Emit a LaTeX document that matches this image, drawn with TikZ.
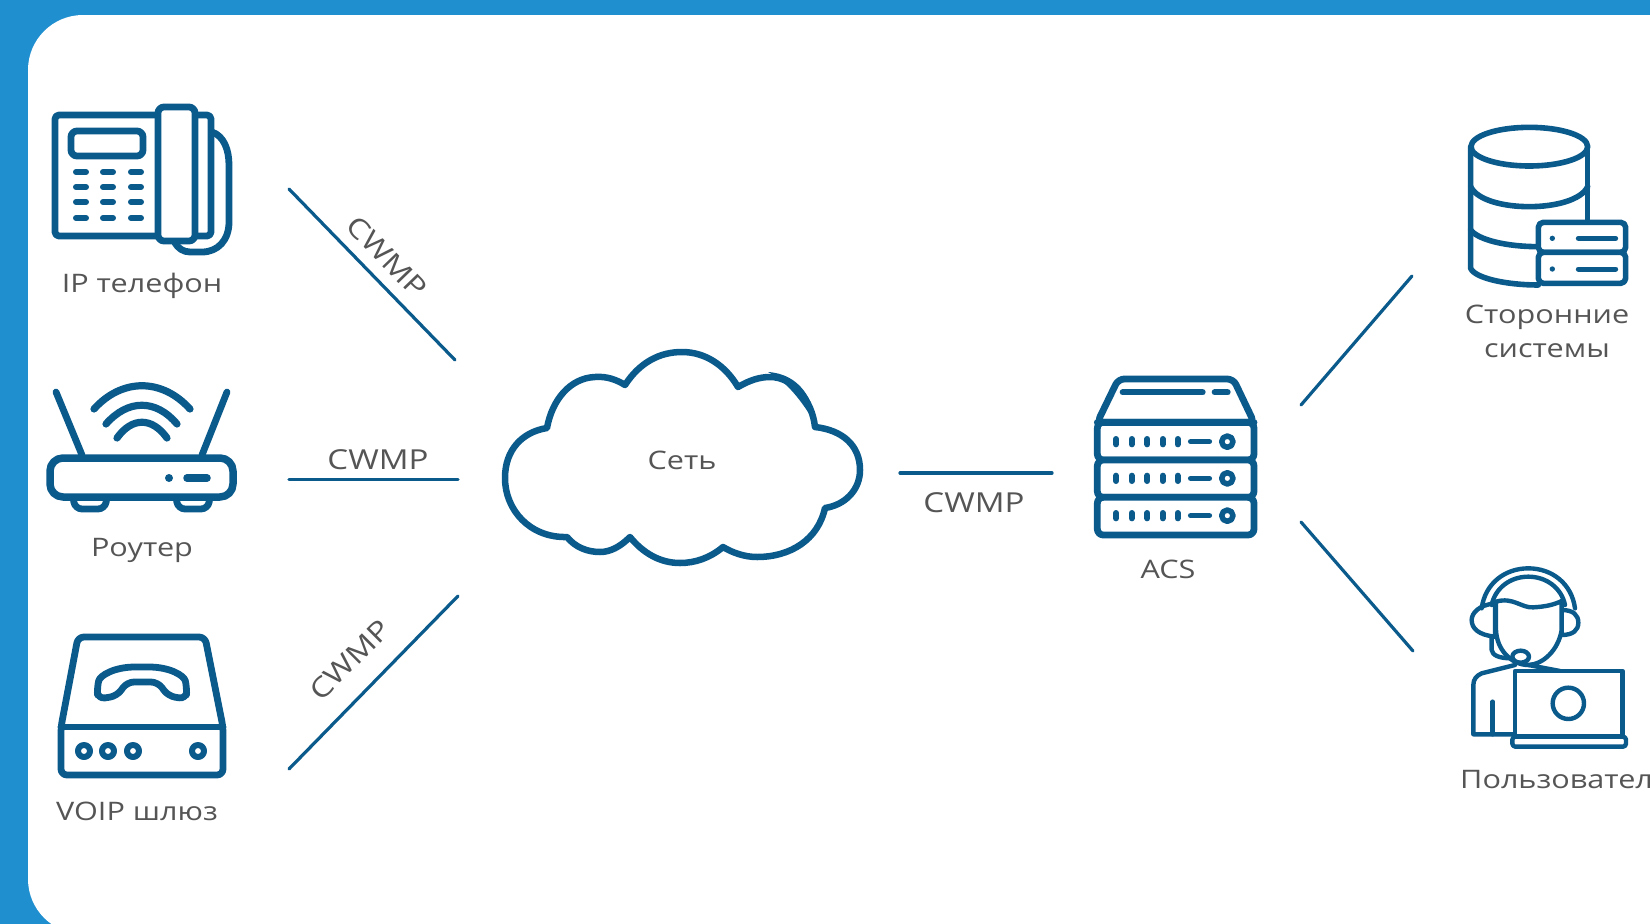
\documentclass[tikz,border=0pt]{standalone}
\usepackage{fontspec}
\setmainfont[FakeStretch=1.2]{Open Sans}
\definecolor{bgblue}{HTML}{208FD0}
\definecolor{ink}{HTML}{0B5A8C}
\definecolor{txt}{HTML}{555555}
\tikzset{
  icon/.style={draw=ink,line width=6.8pt,line join=round,line cap=round},
  thin icon/.style={draw=ink,line width=4.4pt,line join=round,line cap=round},
  wire/.style={draw=ink,line width=3.2pt,line cap=round},
  lbl/.style={text=txt,font=\fontsize{25.5}{34}\selectfont,inner sep=0pt,align=center},
  proto/.style={lbl,font=\fontsize{27.5}{34}\selectfont},
}
\begin{document}
\begin{tikzpicture}[x=1pt,y=-1pt]
\useasboundingbox (0,0) rectangle (1650,924);
\clip (0,0) rectangle (1650,924);
\fill[bgblue] (0,0) rectangle (1650,924);
\fill[white,rounded corners=55pt] (28,15) rectangle (1800,934);

% connectors
\coordinate (a1) at (289,189); \coordinate (a2) at (455,360);
\coordinate (b1) at (289,479.5); \coordinate (b2) at (458,479.5);
\coordinate (c1) at (289,769); \coordinate (c2) at (458,596);
\coordinate (d1) at (900,473); \coordinate (d2) at (1052,473);
\coordinate (e1) at (1301,405); \coordinate (e2) at (1412,276);
\coordinate (f1) at (1301,522); \coordinate (f2) at (1413,651);
\draw[wire] (a1) -- (a2);
\draw[wire] (b1) -- (b2);
\draw[wire] (c1) -- (c2);
\draw[wire] (d1) -- (d2);
\draw[wire] (e1) -- (e2);
\draw[wire] (f1) -- (f2);

% IP phone
\draw[icon,rounded corners=4pt] (55,115) rectangle (211,236);
\draw[icon,rounded corners=6pt] (71,131) rectangle (143,156);
\foreach \yy in {172,187,202,218}{\foreach \xx in {81,108,136}{
  \draw[icon,line width=6pt] (\xx-5,\yy) -- (\xx+5,\yy);}}
\draw[icon] (212,132) .. controls (224,136) and (229,150) .. (229,165) -- (229,222) .. controls (229,240) and (218,252) .. (202,252) -- (190,252) .. controls (183,252) and (178,248) .. (175,243);
\draw[icon,fill=white,rounded corners=6pt] (158,107) rectangle (195,241);

% Router
\draw[icon] (56,392) -- (82,455);
\draw[icon] (227,392) -- (202,455);
\draw[icon,line width=7.2pt] (94,409) .. controls (122,378) and (162,378) .. (190,409);
\draw[icon,line width=7.2pt] (106,424) .. controls (128,399) and (156,399) .. (177,424);
\draw[icon,line width=7.2pt] (117,438) .. controls (132,417) and (152,417) .. (167,438);
\draw[icon,rounded corners=7pt] (73,497) -- (75,509) -- (105,509) -- (107,497);
\draw[icon,rounded corners=7pt] (176,497) -- (178,509) -- (208,509) -- (210,497);
\draw[icon,fill=white,line width=7.5pt,rounded corners=13pt] (50,458) rectangle (233,497);
\fill[ink] (169,478) circle[radius=4];
\draw[icon,line width=7.5pt] (187,478) -- (207,478);

% VOIP gateway
\draw[icon,rounded corners=6pt] (61,727) -- (78,637) -- (205,637) -- (223,727) -- (223,775) -- (61,775) -- cycle;
\draw[icon] (61,727) -- (223,727);
\draw[icon,rounded corners=7pt] (97,688) .. controls (100,675) and (115,667) .. (142,667) .. controls (169,667) and (184,675) .. (187,688) -- (186,699) -- (168,696) -- (158,682) -- (127,682) -- (117,696) -- (98,699) -- cycle;
\foreach \xx in {84,108,133,198}{\draw[icon,line width=6pt] (\xx,751) circle[radius=6];}

% Cloud
\filldraw[draw=ink,fill=white,line width=6.5pt,line join=round] (625,385)
  .. controls (640,362) and (660,352) .. (682,352)
  .. controls (705,352) and (725,365) .. (738,387)
  .. controls (750,380) and (760,377) .. (770,377)
  .. controls (793,377) and (812,400) .. (815,427)
  .. controls (842,430) and (860,445) .. (860,470)
  .. controls (860,490) and (845,505) .. (825,508)
  .. controls (818,540) and (790,557) .. (757,557)
  .. controls (745,557) and (733,553) .. (723,547)
  .. controls (710,558) and (695,563) .. (680,563)
  .. controls (660,563) and (643,553) .. (630,537)
  .. controls (620,547) and (610,552) .. (600,552)
  .. controls (587,552) and (575,547) .. (567,537)
  .. controls (530,538) and (505,510) .. (505,478)
  .. controls (505,450) and (522,432) .. (547,428)
  .. controls (552,400) and (570,378) .. (595,377)
  .. controls (607,376) and (617,380) .. (625,385) -- cycle;
\fill[ink] (768,372) .. controls (800,374) and (814,400) .. (816,425) .. controls (806,408) and (790,383) .. (768,372) -- cycle;

% ACS server
\begin{scope}[shift={(1080,365)},scale=1/3]
\draw[icon,fill=white,rounded corners=6pt] (52,172) -- (115,42) -- (460,42) -- (522,172) -- cycle;
\draw[icon,fill=white,rounded corners=6pt] (52,172) rectangle (522,285);
\draw[icon,fill=white,rounded corners=6pt] (52,285) rectangle (522,397);
\draw[icon,fill=white,rounded corners=6pt] (52,397) rectangle (522,510);
\draw[icon] (52,172) -- (522,172);
\draw[icon,line width=6pt] (128,82) -- (368,82);
\draw[icon,line width=6pt] (404,82) -- (443,82);
\foreach \yy in {230,340,452}{
  \foreach \xx in {108,155,202,248,293}{\draw[icon,line width=6pt] (\xx,\yy-8) -- (\xx,\yy+8);}
  \draw[icon,line width=5.5pt] (332,\yy) -- (388,\yy);
  \draw[icon,line width=5.5pt] (442,\yy) circle[radius=17];
}
\end{scope}

% Database
\begin{scope}[shift={(1450,115)},scale=1/3]
\draw[icon,line width=5.6pt] (238,95) ellipse[x radius=175,y radius=58];
\draw[icon,line width=5.6pt] (62,95) -- (62,460) .. controls (75,490) and (170,510) .. (265,510);
\draw[icon,line width=5.6pt] (413,95) -- (413,320);
\draw[icon,line width=5.6pt] (62,215) .. controls (100,295) and (375,295) .. (413,215);
\draw[icon,line width=5.6pt] (62,345) .. controls (85,375) and (170,395) .. (265,395);
\draw[icon,fill=white,line width=5.6pt,rounded corners=5pt] (265,322) rectangle (527,412);
\draw[icon,fill=white,line width=5.6pt,rounded corners=5pt] (265,412) rectangle (527,505);
\fill[ink] (307,370) circle[radius=8];
\fill[ink] (307,462) circle[radius=8];
\draw[icon,line width=5pt] (385,370) -- (497,370);
\draw[icon,line width=5pt] (385,462) -- (497,462);
\end{scope}

% User
\begin{scope}[shift={(1450,555)},scale=1/3]
\draw[thin icon] (95,160) .. controls (105,85) and (165,40) .. (235,40) .. controls (305,40) and (365,85) .. (375,160);
\draw[thin icon] (125,150) .. controls (135,100) and (180,65) .. (235,65) .. controls (290,65) and (335,100) .. (345,150);
\draw[thin icon] (135,145) .. controls (85,150) and (65,175) .. (65,195) .. controls (65,220) and (85,240) .. (135,245) -- cycle;
\draw[thin icon] (335,165) .. controls (370,165) and (385,180) .. (385,203) .. controls (385,225) and (370,240) .. (335,240) -- cycle;
\draw[thin icon,fill=white] (138,140) .. controls (190,125) and (215,160) .. (250,157) .. controls (285,155) and (310,150) .. (335,138) -- (335,225) .. controls (325,285) and (280,328) .. (235,330) .. controls (185,330) and (140,285) .. (138,225) -- cycle;
\draw[thin icon] (125,245) -- (125,285) .. controls (127,300) and (145,310) .. (185,310);
\draw[thin icon,fill=white] (212,305) ellipse[x radius=25,y radius=18];
\draw[thin icon] (195,330) -- (95,355) .. controls (80,362) and (70,372) .. (70,390) -- (70,538) -- (195,538);
\draw[thin icon] (128,440) -- (128,538);
\draw[thin icon] (235,330) -- (330,348);
\draw[thin icon,fill=white] (195,348) rectangle (518,545);
\draw[thin icon,fill=white,rounded corners=3pt] (187,545) rectangle (528,575);
\draw[thin icon] (355,445) circle[radius=47];
\end{scope}

% labels
\node[lbl] (lphone) at (142,286) {IP телефон};
\node[lbl] (lrouter) at (142,550) {Роутер};
\node[lbl] (lvoip) at (137,811) {VOIP шлюз};
\node[proto,rotate=-46] (w1) at (387,257) {CWMP};
\node[proto] (w2) at (378,460) {CWMP};
\node[proto,rotate=45] (w3) at (350,660) {CWMP};
\node[proto] (w4) at (974,503) {CWMP};
\node[lbl] (lnet) at (682,460) {Сеть};
\node[lbl] (lacs) at (1168,569) {ACS};
\node[lbl] (lsys) at (1547,331) {Сторонние\\системы};
\node[lbl,anchor=west] (luser) at (1460,780) {Пользовател};
\end{tikzpicture}
\end{document}
